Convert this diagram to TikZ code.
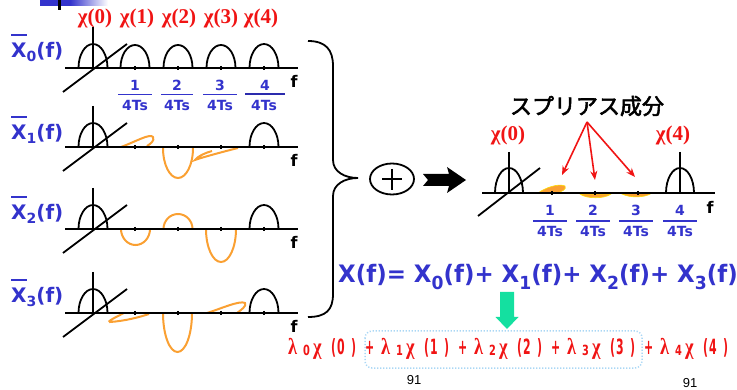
\documentclass[tikz,border=0pt]{standalone}
\usepackage{fontspec}
\setmainfont{Liberation Serif}
\newfontfamily\dv{DejaVu Sans}
\newfontfamily\lsans{Liberation Sans}
\newfontfamily\jp{Noto Sans CJK JP}[AutoFakeBold=2.5]
\usetikzlibrary{arrows.meta}
\definecolor{xblue}{RGB}{51,51,204}
\definecolor{xred}{RGB}{240,20,20}
\definecolor{xorange}{RGB}{250,160,50}
\definecolor{xgreen}{RGB}{20,224,160}
\definecolor{xdot}{RGB}{170,215,245}
\newcommand\Xov[1]{\vbox{\hrule height 2pt\kern 7pt\hbox{X}}\raisebox{-4pt}{\fontsize{14}{14}\selectfont #1}(f)}
\newcommand\Sbs[1]{\raisebox{-7pt}{\fontsize{18}{18}\selectfont #1}}
\newcommand\lamf[1]{{\fontspec{Liberation Serif}\bfseries\fontsize{23}{23}\selectfont\scalebox{0.8}[1]{#1}}}
\newcommand\dsf[1]{{\dv\bfseries\fontsize{21}{21}\selectfont\scalebox{0.52}[1]{#1}}}
\newcommand\dsub[1]{{\dv\bfseries\fontsize{14}{14}\selectfont\scalebox{0.7}[1]{#1}}}
\newcommand\lterm[2]{\makebox[15pt][l]{\lamf{λ}}\makebox[10pt][l]{\raisebox{-1pt}{\dsub{#1}}}\makebox[18pt][l]{\lamf{χ}}\makebox[6pt][l]{\dsf{(}}\makebox[14pt][l]{\dsf{#1}}\makebox[14pt][l]{\dsf{)}}#2}
\newcommand\lplus{\makebox[16pt][l]{\dsf{+}}}
\begin{document}
\begin{tikzpicture}[x=1pt,y=-1pt,
  ax/.style={line width=1.8pt,black},
  tk/.style={line width=2pt,black},
  spurc/.style={line width=2pt,xorange},
  chi/.style={font=\bfseries\fontsize{21}{21}\selectfont,text=xred,inner sep=0},
  lbl/.style={font=\dv\bfseries\fontsize{20}{20}\selectfont,text=xblue,inner sep=0,anchor=base west},
  fnum/.style={font=\dv\bfseries\fontsize{14}{14}\selectfont,text=xblue,inner sep=0},
  fline/.style={line width=1.2pt,xblue},
  flbl/.style={font=\dv\bfseries\fontsize{16}{16}\selectfont,inner sep=0,anchor=base},
  redarr/.style={xred,line width=1.6pt,-{Stealth[length=9pt,width=7pt]}},
  blob/.style={fill=xorange,draw=yellow!80!orange,line width=0.6pt}]
\useasboundingbox (0,0) rectangle (737,390);
% top decoration
\fill[xblue] (40,0) rectangle (70,6);
\shade[left color=xblue,right color=white] (70,0) rectangle (108,6);
\fill[black] (58,0) rectangle (60.5,10);
% chi labels
\foreach \k/\x in {0/95,1/137,2/179,3/221,4/261}
  \node[chi] (chi\k) at (\x,18) {χ(\k)};
% orange spurious curves
\draw[spurc] (121,147) .. controls (135,142) and (150,133) .. (153,137) .. controls (155,141) and (150,144) .. (147,146);
\draw[spurc] (163,148) arc[start angle=180,end angle=0,x radius=15,y radius=30];
\draw[spurc] (238,148) .. controls (222,152) and (200,158) .. (195,160) .. controls (198,156) and (205,153) .. (212,151);
\draw[spurc] (121,229) arc[start angle=180,end angle=0,x radius=14.5,y radius=16];
\draw[spurc] (163.5,229) arc[start angle=180,end angle=360,x radius=14.5,y radius=15];
\draw[spurc] (206,229) arc[start angle=180,end angle=0,x radius=15,y radius=33];
\draw[spurc] (124,313) .. controls (116,317) and (106,322) .. (110,322) .. controls (125,321) and (140,317) .. (149,314);
\draw[spurc] (163,313) arc[start angle=180,end angle=0,x radius=14.5,y radius=39];
\draw[spurc] (207,313) .. controls (220,309) and (240,300) .. (245,303) .. controls (247,306) and (241,310) .. (237,313);
% panels
\foreach \n/\y in {0/68,1/147,2/229,3/313}{
  \draw[ax] (65,\y) -- (298,\y);
  \draw[ax] (93,{\y-41}) -- (93,\y);
  \draw[ax] (63,{\y+24}) -- (127,{\y-24});
  \draw[ax] (78.5,\y) arc[start angle=180,end angle=360,x radius=14.5,y radius=24];
  \draw[ax] (249.5,\y) arc[start angle=180,end angle=360,x radius=14.5,y radius=24];
  \foreach \t in {135,178,221,264} \draw[tk] (\t,{\y-2}) -- (\t,{\y+2});
  \node[flbl] (f\n) at (294,{\y+20}) {f};
}
\foreach \x in {135,178,221}
  \draw[ax] ({\x-14.5},68) arc[start angle=180,end angle=360,x radius=14.5,y radius=23];
% labels
\node[lbl] (lab0) at (11,58) {\Xov{0}};
\node[lbl] (lab1) at (11,140) {\Xov{1}};
\node[lbl] (lab2) at (11,220) {\Xov{2}};
\node[lbl] (lab3) at (11,303) {\Xov{3}};
% fractions panel 0
\foreach \k/\x/\w in {1/135/17,2/177/16,3/220/17}{
  \node[fnum] (num\k) at (\x,85) {\k};
  \draw[fline] ({\x-\w},94.5) -- ({\x+\w},94.5);
  \node[fnum] (den\k) at (\x,105) {4Ts};
}
\node[fnum] (num4) at (265,85) {4};
\draw[line width=2pt,xblue!85!black] (245,94.5) -- (285,94.5);
\node[fnum] (den4) at (264,105) {4Ts};
% brace
\draw[line width=1.8pt] (308,41) .. controls (326,41) and (333,50) .. (333,66) -- (333,160)
  .. controls (333,172) and (345,178) .. (358,178) .. controls (345,178) and (333,184) .. (333,196)
  -- (333,294) .. controls (333,310) and (326,317) .. (308,317);
% circled plus
\draw[line width=1.8pt] (392,179) ellipse [x radius=22,y radius=15.5];
\draw[line width=1.8pt] (382,179) -- (402,179) (392,169) -- (392,190);
% black arrow
\fill[black] (423,174) -- (449,174) -- (447,167) -- (466,180) -- (447,193) -- (449,186) -- (423,186) -- (428,180) -- cycle;
% right diagram
\fill[blob] (538,193) .. controls (545,188) and (558,183) .. (565,186) .. controls (567,189) and (562,192) .. (556,193) -- cycle;
\fill[blob] (580,194) .. controls (586,199) and (605,199) .. (611,194) -- cycle;
\fill[blob] (622,194) .. controls (630,198) and (645,198) .. (652,193) -- cycle;
\draw[ax] (482,193) -- (715,193);
\draw[ax] (509,152) -- (509,193);
\draw[ax] (680,152) -- (680,193);
\draw[ax] (478,216) -- (540,168);
\draw[ax] (495,193) arc[start angle=180,end angle=360,x radius=14,y radius=25];
\draw[ax] (666,193) arc[start angle=180,end angle=360,x radius=14,y radius=25];
\foreach \t in {552,595,638} \draw[tk] (\t,191) -- (\t,195);
\node[flbl] (fR) at (710,214) {f};
\foreach \k/\x in {1/550,2/593,3/636,4/680}{
  \node[fnum] (rnum\k) at (\x,210) {\k};
  \draw[fline] ({\x-17},221) -- ({\x+17},221);
  \node[fnum] (rden\k) at (\x,231) {4Ts};
}
\node[chi] (chiR0) at (508,135) {χ(0)};
\node[chi] (chiR4) at (673,135) {χ(4)};
\node[font=\jp\bfseries\fontsize{22}{22}\selectfont,inner sep=0] (spur) at (587,106) {スプリアス成分};
\coordinate (sp) at (587,122);
\coordinate (s1) at (562,175);
\coordinate (s2) at (595,180);
\coordinate (s3) at (635,177);
\draw[redarr] (sp) -- (s1);
\draw[redarr] (sp) -- (s2);
\draw[redarr] (sp) -- (s3);
% sum formula
\node[lbl,font=\dv\bfseries\fontsize{24}{24}\selectfont] (sum) at (338,283) {\scalebox{0.955}[1]{X(f)= X\Sbs{0}(f)+ X\Sbs{1}(f)+ X\Sbs{2}(f)+ X\Sbs{3}(f)}};
% green arrow
\fill[xgreen] (500,292) -- (514,292) -- (514,317) -- (518.5,317) -- (507,329) -- (495.5,317) -- (500,317) -- cycle;
% dotted box
\draw[xdot,line width=1.5pt,dash pattern=on 1.2pt off 1.8pt,rounded corners=7pt] (365,331) rectangle (642,368);
% lambda formula
\node[anchor=base west,inner sep=0,text=xred] (lam) at (288,355)
  {\lterm{0}{\lplus}\lterm{1}{\lplus}\lterm{2}{\lplus}\lterm{3}{\lplus}\lterm{4}{}};
% page numbers
\node[font=\lsans\fontsize{13}{13}\selectfont,inner sep=0] (pg1) at (414,380) {91};
\node[font=\lsans\fontsize{13}{13}\selectfont,inner sep=0] (pg2) at (690,383) {91};
\end{tikzpicture}
\end{document}
